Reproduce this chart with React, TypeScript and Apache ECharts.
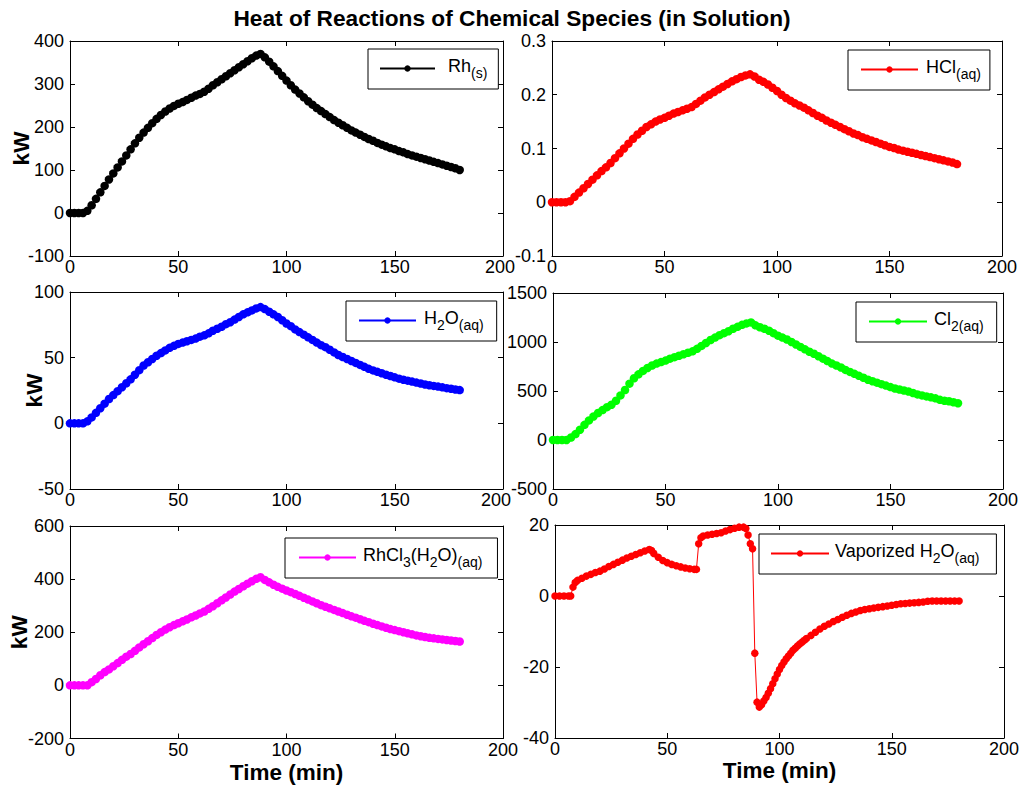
import React, { useEffect, useRef } from "react";
import * as echarts from "echarts";

// ---------- data ----------
const TIME = [
  0, 2, 4, 6, 8, 10, 12, 14, 16, 18, 20, 22, 24, 26, 28, 30, 32, 34, 36, 38,
  40, 42, 44, 46, 48, 50, 52, 54, 56, 58, 60, 62, 64, 66, 68, 70, 72, 74, 76, 78,
  80, 82, 84, 86, 88, 90, 92, 94, 96, 98, 100, 102, 104, 106, 108, 110, 112, 114, 116, 118,
  120, 122, 124, 126, 128, 130, 132, 134, 136, 138, 140, 142, 144, 146, 148, 150, 152, 154, 156, 158,
  160, 162, 164, 166, 168, 170, 172, 174, 176, 178, 180,
];

const RH_S = [
  0, 0, 0, 0, 5, 18, 33, 48, 63, 78,
  92, 106, 120, 134, 148, 162, 175, 187, 198, 209,
  219, 228, 236, 243, 249, 254, 258, 263, 268, 273,
  277, 282, 289, 297, 304, 311, 318, 325, 332, 339,
  346, 353, 360, 366, 370, 362, 352, 341, 330, 319,
  308, 297, 287, 278, 269, 260, 252, 244, 237, 230,
  223, 216, 210, 204, 198, 192, 187, 182, 177, 172,
  168, 163, 159, 155, 151, 148, 144, 141, 137, 134,
  131, 128, 125, 122, 119, 116, 113, 110, 107, 104,
  100,
];

const HCL_AQ = [
  0, 0, 0, 0, 0.002, 0.01, 0.018, 0.026, 0.034, 0.042,
  0.05, 0.058, 0.065, 0.073, 0.082, 0.091, 0.1, 0.109, 0.118, 0.126,
  0.133, 0.14, 0.145, 0.15, 0.154, 0.157, 0.161, 0.165, 0.168, 0.171,
  0.174, 0.177, 0.183, 0.189, 0.195, 0.2, 0.205, 0.21, 0.215, 0.22,
  0.225, 0.229, 0.233, 0.236, 0.238, 0.234, 0.228, 0.224, 0.219, 0.213,
  0.207, 0.2, 0.194, 0.189, 0.184, 0.18, 0.176, 0.171, 0.166, 0.161,
  0.157, 0.152, 0.148, 0.144, 0.14, 0.136, 0.132, 0.128, 0.125, 0.121,
  0.118, 0.115, 0.112, 0.109, 0.106, 0.103, 0.101, 0.098, 0.096, 0.094,
  0.092, 0.09, 0.088, 0.086, 0.084, 0.082, 0.08, 0.078, 0.076, 0.074,
  0.071,
];

const H2O_AQ = [
  0, 0, 0, 0, 1.5, 4.5, 8, 11.5, 15, 18.5,
  21.5, 24.5, 27.5, 30.5, 33.5, 37, 40.5, 44, 46.5, 49,
  51.5, 53.5, 55.5, 57.5, 59, 60.5, 61.5, 62.5, 63.5, 64.5,
  66, 67, 68.5, 70.5, 72, 73.5, 75.5, 77, 79, 81,
  83, 84.5, 86, 87.5, 88.5, 87, 85, 83, 81, 78.5,
  76, 74, 71.5, 69.5, 67.5, 65.5, 63.5, 61.5, 59.5, 58,
  56, 54, 52, 50.5, 49, 47.5, 46, 44.5, 43, 41.5,
  40.3, 39.2, 38.1, 37, 36, 35, 34, 33.2, 32.5, 31.8,
  31, 30.3, 29.6, 29, 28.5, 28, 27.4, 26.8, 26.3, 25.8,
  25.3,
];

const CL2_AQ = [
  0, 0, 0, 0, 25, 60, 105, 155, 200, 240,
  275, 305, 335, 360, 400, 455, 510, 575, 630, 670,
  705, 735, 760, 780, 795, 810, 830, 845, 860, 875,
  890, 905, 930, 960, 990, 1020, 1045, 1070, 1090, 1110,
  1135, 1155, 1175, 1190, 1200, 1170, 1150, 1135, 1115, 1090,
  1065, 1045, 1025, 1000, 975, 950, 925, 900, 880, 855,
  830, 805, 780, 760, 740, 715, 695, 675, 655, 635,
  615, 600, 585, 570, 555, 540, 525, 515, 505, 495,
  480, 465, 455, 445, 435, 425, 410, 400, 395, 385,
  375,
];

const RHCL3_AQ = [
  0, 0, 0, 0, 0, 12, 24, 38, 50, 60,
  72, 84, 96, 108, 118, 130, 143, 155, 166, 178,
  190, 200, 210, 219, 227, 234, 241, 248, 256, 263,
  271, 278, 288, 298, 309, 320, 331, 342, 353, 363,
  373, 383, 392, 401, 407, 397, 388, 379, 371, 364,
  357, 351, 344, 337, 330, 323, 316, 309, 302, 296,
  290, 284, 278, 272, 266, 260, 255, 249, 243, 238,
  232, 227, 222, 217, 212, 208, 204, 200, 196, 192,
  188, 185, 182, 179, 177, 175, 173, 171, 169, 167,
  165,
];

const VAP_TIME = [
  0, 2, 4, 6, 7, 8, 9, 10,
  12, 14, 16, 18, 20, 22, 24, 26, 28, 30, 32, 34, 36, 38, 40, 42,
  43, 44,
  46, 48, 50, 52, 54, 56, 58, 60, 62,
  63, 64, 65, 66,
  68, 70, 72, 74, 76, 78, 80, 82, 84,
  85, 86, 87, 88, 89, 90, 91, 92, 93, 94, 95, 96, 97, 98, 99, 100,
  101, 102, 103, 104, 105, 106, 107, 108, 109, 110, 111, 112,
  114, 116, 118, 120, 122, 124, 126, 128, 130, 132, 134, 136, 138, 140,
  142, 144, 146, 148, 150, 152, 154, 156, 158, 160, 162, 164, 166, 168,
  170, 172, 174, 176, 178, 180,
];

const VAP_H2O = [
  0, 0, 0, 0, 0, 2.5, 3.8, 4.4,
  5.0, 5.6, 6.1, 6.6, 7.0, 7.6, 8.3, 8.9, 9.5, 10.1, 10.7, 11.2, 11.7, 12.2, 12.7, 13.1,
  12.8, 12.0,
  10.9, 10.0, 9.4, 8.9, 8.5, 8.2, 7.9, 7.7, 7.5,
  7.5, 14.7, 16.4, 16.9,
  17.2, 17.4, 17.6, 17.8, 18.3, 18.7, 19.1, 19.4, 19.4,
  19.0, 17.2, 14.7, 13.3, -16.1, -29.9, -31.3, -30.6, -29.6, -28.6, -27.4, -26.1, -24.7, -23.3, -22.0, -20.7,
  -19.6, -18.6, -17.7, -16.9, -16.1, -15.3, -14.7, -14.1, -13.5, -13.0, -12.5, -12.0,
  -11.1, -10.2, -9.3, -8.5, -7.9, -7.2, -6.6, -6.0, -5.4, -4.9, -4.5, -4.1, -3.8, -3.6,
  -3.4, -3.2, -3.0, -2.8, -2.6, -2.4, -2.2, -2.1, -2.0, -1.9, -1.8, -1.7, -1.5, -1.4,
  -1.4, -1.4, -1.4, -1.4, -1.4, -1.4,
];

const X_RANGE = [0, 200, 50];
const TITLE = "Heat of Reactions of Chemical Species (in Solution)";
const X_NAME = "Time (min)";
const Y_NAME = "kW";

// ---------- layout / style ----------
const FONT = "'Liberation Sans', Arial, Helvetica, sans-serif";

type Panel = {
  name: string;
  label: string;
  color: string;
  time: number[];
  values: number[];
  y: number[];
  grid: { left: number; top: number; width: number; height: number };
  lg: { left: number; top: number; padL: number; padR: number; iw: number; shift: number };
  yGap?: number;
  xGap?: number;
  maxPad?: number;
};

const PANELS: Panel[] = [
  {
    name: "Rh(s)", label: "{f|Rh}{s|(s)}", color: "#000000", time: TIME, values: RH_S,
    y: [-100, 400, 100], grid: { left: 70, top: 41, width: 433, height: 215 },
    lg: { left: 368, top: 49, padL: 11, padR: 11, iw: 55, shift: 8 }, yGap: 37, maxPad: 6,
  },
  {
    name: "HCl(aq)", label: "{f|HCl}{s|(aq)}", color: "#ff0000", time: TIME, values: HCL_AQ,
    y: [-0.1, 0.3, 0.1], grid: { left: 552, top: 41, width: 450, height: 215 },
    lg: { left: 848, top: 50, padL: 12, padR: 9, iw: 57, shift: 3 },
  },
  {
    name: "H2O(aq)", label: "{f|H}{s|2}{m|O}{s|(aq)}", color: "#0000ff", time: TIME, values: H2O_AQ,
    y: [-50, 100, 50], grid: { left: 70, top: 292, width: 433, height: 197 },
    lg: { left: 346, top: 301, padL: 12, padR: 13, iw: 57, shift: 3 }, yGap: 24, maxPad: 14,
  },
  {
    name: "Cl2(aq)", label: "{f|Cl}{s|2(aq)}", color: "#00ff00", time: TIME, values: CL2_AQ,
    y: [-500, 1500, 500], grid: { left: 553, top: 293, width: 450, height: 196 },
    lg: { left: 856, top: 302, padL: 12, padR: 13, iw: 58, shift: 2 },
  },
  {
    name: "RhCl3(H2O)(aq)", label: "{f|RhCl}{s|3}{m|(H}{s|2}{m|O)}{s|(aq)}", color: "#ff00ff",
    time: TIME, values: RHCL3_AQ,
    y: [-200, 600, 200], grid: { left: 70, top: 526, width: 433, height: 213 },
    lg: { left: 285, top: 538, padL: 13, padR: 15, iw: 57, shift: 2 }, yGap: 39, xGap: 24,
  },
  {
    name: "Vaporized H2O(aq)", label: "{f|Vaporized H}{s|2}{m|O}{s|(aq)}", color: "#ff0000",
    time: VAP_TIME, values: VAP_H2O,
    y: [-40, 20, 20], grid: { left: 555, top: 525, width: 449, height: 213 },
    lg: { left: 759, top: 534, padL: 11, padR: 17, iw: 58, shift: 1 }, xGap: 22,
  },
];

const fmt = (v: number) => String(Number(v.toPrecision(10)));

function buildOption() {
  const axisLine = { show: true, onZero: false, lineStyle: { color: "#000", width: 1 } };
  const axisTick = { show: true, inside: true, length: 5, lineStyle: { color: "#000", width: 1 } };
  const labelStyle = { color: "#000", fontSize: 18, fontFamily: FONT };
  const nameStyle = { color: "#000", fontSize: 22.5, fontWeight: "bold", fontFamily: FONT };

  const grid: any[] = [];
  const xAxis: any[] = [];
  const yAxis: any[] = [];
  const series: any[] = [];
  const legend: any[] = [];

  PANELS.forEach((p, i) => {
    grid.push({ ...p.grid, show: false, containLabel: false });
    const xBase = {
      type: "value", gridIndex: i, min: X_RANGE[0], max: X_RANGE[1], interval: X_RANGE[2],
      axisLine, axisTick, splitLine: { show: false },
    };
    const pad = p.maxPad ?? 0;
    xAxis.push({
      ...xBase, position: "bottom",
      axisLabel: {
        ...labelStyle, margin: 4, lineHeight: 14,
        formatter: (v: number) => (pad && v === X_RANGE[1] ? `{r|${fmt(v)}}` : fmt(v)),
        rich: { r: { ...labelStyle, lineHeight: 14, padding: [0, pad, 0, 0] } },
      },
      name: p.xGap !== undefined ? X_NAME : "",
      nameLocation: "middle", nameGap: p.xGap ?? 0,
      nameTextStyle: { ...nameStyle, lineHeight: 20 },
      nameMoveOverlap: false,
    });
    xAxis.push({ ...xBase, position: "top", axisLabel: { show: false } });

    const yBase = {
      type: "value", gridIndex: i, min: p.y[0], max: p.y[1], interval: p.y[2],
      axisLine, axisTick, splitLine: { show: false },
    };
    yAxis.push({
      ...yBase, position: "left",
      axisLabel: { ...labelStyle, margin: 6, formatter: fmt },
      name: p.yGap !== undefined ? Y_NAME : "",
      nameLocation: "middle", nameRotate: 90, nameGap: p.yGap ?? 0, nameTextStyle: nameStyle,
      nameMoveOverlap: false,
    });
    yAxis.push({ ...yBase, position: "right", axisLabel: { show: false } });

    series.push({
      type: "line",
      name: p.name,
      xAxisIndex: 2 * i,
      yAxisIndex: 2 * i,
      data: p.time.map((t, k) => [t, p.values[k]]),
      symbol: "circle",
      symbolSize: i === 5 ? 7.5 : 8.5,
      showSymbol: true,
      lineStyle: { width: 1, color: p.color },
      itemStyle: { color: p.color },
      emphasis: { disabled: true },
      silent: true,
    });

    legend.push({
      data: [p.name],
      left: p.lg.left,
      top: p.lg.top,
      orient: "horizontal",
      padding: [8, p.lg.padR, 9, p.lg.padL],
      itemWidth: p.lg.iw,
      itemHeight: 8,
      itemGap: 0,
      borderColor: "#000",
      borderWidth: 1,
      borderRadius: 0,
      backgroundColor: "#fff",
      selectedMode: false,
      formatter: () => p.label,
      textStyle: {
        color: "#000",
        fontSize: 18,
        fontFamily: FONT,
        rich: {
          f: { fontSize: 18, fontFamily: FONT, color: "#000", verticalAlign: "top", padding: [0, 0, 0, p.lg.shift] },
          m: { fontSize: 18, fontFamily: FONT, color: "#000", verticalAlign: "top" },
          s: { fontSize: 14, fontFamily: FONT, color: "#000", verticalAlign: "bottom", lineHeight: 23 },
        },
      },
    });
  });

  return {
    animation: false,
    backgroundColor: "#fff",
    title: {
      text: TITLE,
      left: "center",
      top: 6,
      padding: 0,
      textStyle: { color: "#000", fontSize: 22.7, fontWeight: "bold", fontFamily: FONT },
    },
    grid,
    xAxis,
    yAxis,
    legend,
    series,
  };
}

export default function App() {
  const ref = useRef<HTMLDivElement>(null);
  useEffect(() => {
    if (!ref.current) return;
    const chart = echarts.init(ref.current, null, { renderer: "svg" });
    chart.setOption(buildOption() as any);
    return () => chart.dispose();
  }, []);
  return (
    <div
      ref={ref}
      style={{ position: "absolute", left: 0, top: 0, width: 1024, height: 785, background: "#fff" }}
    />
  );
}
